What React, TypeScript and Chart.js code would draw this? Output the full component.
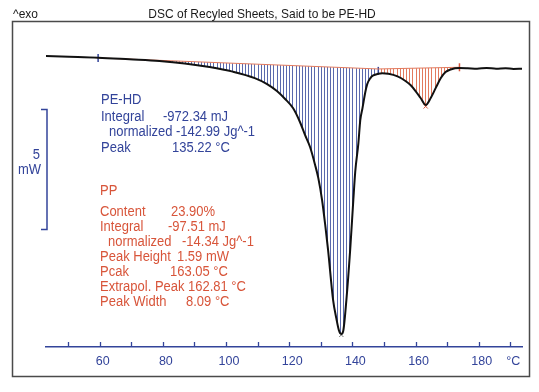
import React, { useEffect, useRef } from 'react';
import { Chart, registerables } from 'chart.js';

Chart.register(...registerables);

// ---- data ----
const temperatureC = [43, 50.3, 59.5, 69.4, 78.9, 86.9, 94.8, 102.1, 109.1, 113, 116.1, 118.7, 121.2, 123.4, 125, 126.6, 128.2, 129.2, 130.4, 131.4, 132.3, 133.9, 134.9, 135.8, 136.5, 137.1, 138.1, 139.3, 140.3, 140.9, 141.9, 142.5, 143.2, 144.1, 144.7, 145.7, 146.6, 148.2, 149.5, 151.4, 154.3, 156.8, 158.4, 160, 161.6, 163.2, 164.8, 166.4, 168, 169.5, 171.1, 173.9, 176.5, 179.5, 182.5, 185.5, 188.5, 191, 193.7];
const heatFlowMW = [0, -0.03, -0.07, -0.14, -0.21, -0.31, -0.46, -0.65, -0.92, -1.17, -1.46, -1.79, -2.17, -2.75, -3.29, -3.79, -4.54, -5.08, -6.0, -7.04, -8.08, -10.17, -10.92, -11.46, -11.58, -11.46, -10.17, -8.08, -6.0, -4.83, -3.63, -2.67, -2.17, -1.5, -1.17, -0.92, -0.81, -0.74, -0.72, -0.74, -0.85, -1.04, -1.21, -1.46, -1.75, -2.04, -1.75, -1.33, -0.92, -0.67, -0.56, -0.5, -0.51, -0.53, -0.5, -0.53, -0.51, -0.54, -0.53];

const peHdBaselineT = [59.5, 148.2];
const peHdBaselineH = [-0.08, -0.54];
const ppBaselineT = [148.2, 173.9];
const ppBaselineH = [-0.54, -0.47];

const limitT = [59.5, 148.2, 173.9];
const limitH = [-0.08, -0.62, -0.47];
const peakT = [136.5, 163.2];
const peakH = [-11.62, -2.1];

const xTicks = [50, 60, 70, 80, 90, 100, 110, 120, 130, 140, 150, 160, 170, 180, 190];
const xTickLabels = ['', '60', '', '80', '', '100', '', '120', '', '140', '', '160', '', '180', '°C'];

const scaleBarTopMW = -2.2;
const scaleBarSpanMW = 5;

const titleText = 'DSC of Recyled Sheets, Said to be PE-HD';
const exoText = '^exo';
const peHdHeader = 'PE-HD';
const peHdLabels = ['Integral', 'normalized', 'Peak'];
const peHdValues = ['-972.34 mJ', '-142.99 Jg^-1', '135.22 °C'];
const ppHeader = 'PP';
const ppLabels = ['Content', 'Integral', 'normalized', 'Peak Height', 'Pcak', 'Extrapol. Peak', 'Peak Width'];
const ppValues = ['23.90%', '-97.51 mJ', '-14.34 Jg^-1', '1.59 mW', '163.05 °C', '162.81 °C', '8.09 °C'];

// ---- styles ----
const BLUE = '#33449a';
const BLUE_HATCH = '#5a69ad';
const ORANGE = '#d8553a';
const ORANGE_HATCH = '#e27a5e';
const FONT = '"Liberation Sans", Arial, Helvetica, sans-serif';

function drawText(ctx: CanvasRenderingContext2D, text: string, x: number, y: number) {
  ctx.save();
  ctx.translate(x, y);
  ctx.scale(1, 1.12);
  ctx.fillText(text, 0, 0);
  ctx.restore();
}

const hatchPlugin = {
  id: 'hatch',
  beforeDatasetsDraw(chart: any) {
    const { ctx, chartArea, scales } = chart;
    const x = scales.x;
    const y = scales.y;
    const pts = chart.getDatasetMeta(0).data as any[];
    const regions = [
      { t: peHdBaselineT, h: peHdBaselineH, color: BLUE_HATCH },
      { t: ppBaselineT, h: ppBaselineH, color: ORANGE_HATCH },
    ];
    regions.forEach((r) => {
      ctx.save();
      ctx.beginPath();
      ctx.moveTo(x.getPixelForValue(r.t[0]), y.getPixelForValue(r.h[0]));
      let prev: any = null;
      temperatureC.forEach((t, i) => {
        if (t < r.t[0] || t > r.t[1]) return;
        const p = pts[i];
        if (prev && prev.cp2x !== undefined && p.cp1x !== undefined) {
          ctx.bezierCurveTo(prev.cp2x, prev.cp2y, p.cp1x, p.cp1y, p.x, p.y);
        } else {
          ctx.lineTo(p.x, p.y);
        }
        prev = p;
      });
      ctx.lineTo(x.getPixelForValue(r.t[1]), y.getPixelForValue(r.h[1]));
      ctx.closePath();
      ctx.clip();
      ctx.strokeStyle = r.color;
      ctx.lineWidth = 1;
      for (let t = Math.ceil(r.t[0]); t <= r.t[1]; t++) {
        const px = Math.round(x.getPixelForValue(t)) + 0.5;
        ctx.beginPath();
        ctx.moveTo(px, chartArea.top);
        ctx.lineTo(px, chartArea.bottom);
        ctx.stroke();
      }
      ctx.restore();
    });
  },
};

const decorPlugin = {
  id: 'decor',
  beforeDraw(chart: any) {
    const { ctx, width, height } = chart;
    ctx.save();
    ctx.fillStyle = '#ffffff';
    ctx.fillRect(0, 0, width, height);
    ctx.restore();
  },
  afterDraw(chart: any) {
    const { ctx, scales } = chart;
    const x = scales.x;
    const y = scales.y;
    ctx.save();
    // frame
    ctx.strokeStyle = '#4a4a4a';
    ctx.lineWidth = 1.5;
    ctx.strokeRect(12.5, 21.5, 517, 355);

    // tick marks pointing up
    ctx.strokeStyle = BLUE;
    ctx.lineWidth = 1.3;
    const yAxis = x.top;
    xTicks.forEach((v) => {
      const px = Math.round(x.getPixelForValue(v)) + 0.5;
      ctx.beginPath();
      ctx.moveTo(px, yAxis);
      ctx.lineTo(px, yAxis - 5);
      ctx.stroke();
    });

    // title
    ctx.fillStyle = '#1a1a1a';
    ctx.font = `12px ${FONT}`;
    ctx.textBaseline = 'middle';
    ctx.textAlign = 'center';
    drawText(ctx, titleText, 262, 14);
    ctx.textAlign = 'left';
    drawText(ctx, exoText, 13, 14);

    // scale bar
    const yTop = Math.round(y.getPixelForValue(scaleBarTopMW)) + 0.5;
    const yBot = Math.round(y.getPixelForValue(scaleBarTopMW - scaleBarSpanMW)) + 0.5;
    ctx.strokeStyle = BLUE;
    ctx.lineWidth = 1.5;
    ctx.beginPath();
    ctx.moveTo(41, yTop);
    ctx.lineTo(47, yTop);
    ctx.lineTo(47, yBot);
    ctx.lineTo(41, yBot);
    ctx.stroke();
    ctx.fillStyle = BLUE;
    ctx.font = `13px ${FONT}`;
    ctx.textAlign = 'right';
    drawText(ctx, String(scaleBarSpanMW), 40, 155);
    drawText(ctx, 'mW', 41, 170);

    // PE-HD block
    ctx.textAlign = 'left';
    ctx.fillStyle = BLUE;
    drawText(ctx, peHdHeader, 101, 100);
    const peLabelX = [101, 109, 101];
    const peValueX = [163, 176, 172];
    const peY = [117, 132, 148];
    peHdLabels.forEach((l, i) => {
      drawText(ctx, l, peLabelX[i], peY[i]);
      drawText(ctx, peHdValues[i], peValueX[i], peY[i]);
    });

    // PP block
    ctx.fillStyle = ORANGE;
    drawText(ctx, ppHeader, 100, 191);
    const ppLabelX = [100, 100, 108, 100, 100, 100, 100];
    const ppValueX = [171, 168, 182, 177, 170, 188, 186];
    const ppY = [212, 227, 242, 257, 272, 287, 302];
    ppLabels.forEach((l, i) => {
      drawText(ctx, l, ppLabelX[i], ppY[i]);
      drawText(ctx, ppValues[i], ppValueX[i], ppY[i]);
    });
    ctx.restore();
  },
};

export default function App() {
  const ref = useRef<HTMLCanvasElement>(null);
  useEffect(() => {
    const curve = temperatureC.map((t, i) => ({ x: t, y: heatFlowMW[i] }));
    const chart = new Chart(ref.current as HTMLCanvasElement, {
      type: 'line',
      data: {
        datasets: [
          {
            label: 'DSC',
            data: curve,
            borderColor: '#111111',
            borderWidth: 2,
            pointRadius: 0,
            cubicInterpolationMode: 'monotone',
            fill: false,
          },
          {
            label: 'PE-HD baseline',
            data: peHdBaselineT.map((t, i) => ({ x: t, y: peHdBaselineH[i] })),
            borderColor: ORANGE_HATCH,
            borderWidth: 1,
            pointRadius: 0,
            fill: false,
          },
          {
            label: 'PP baseline',
            data: ppBaselineT.map((t, i) => ({ x: t, y: ppBaselineH[i] })),
            borderColor: ORANGE_HATCH,
            borderWidth: 1,
            pointRadius: 0,
            fill: false,
          },
          {
            label: 'limits',
            data: limitT.map((t, i) => ({ x: t, y: limitH[i] })),
            showLine: false,
            pointStyle: 'line',
            rotation: 90,
            pointRadius: 4,
            pointBorderWidth: 1.5,
            pointBorderColor: [BLUE, BLUE, ORANGE],
            borderColor: ORANGE,
          },
          {
            label: 'peaks',
            data: peakT.map((t, i) => ({ x: t, y: peakH[i] })),
            showLine: false,
            pointStyle: 'crossRot',
            pointRadius: 3,
            pointBorderWidth: 1,
            pointBorderColor: ['#777777', ORANGE],
            borderColor: '#777777',
          },
        ] as any,
      },
      options: {
        responsive: false,
        devicePixelRatio: 1,
        animation: false,
        events: [],
        layout: { padding: { left: 46, right: 17, top: 20, bottom: 16 } },
        plugins: {
          legend: { display: false },
          tooltip: { enabled: false },
          title: { display: false },
        },
        scales: {
          x: {
            type: 'linear',
            position: 'bottom',
            min: 43,
            max: 193.7,
            afterBuildTicks: (scale: any) => {
              scale.ticks = xTicks.map((v) => ({ value: v }));
            },
            ticks: {
              autoSkip: false,
              maxRotation: 0,
              padding: 7,
              labelOffset: 3,
              color: BLUE,
              font: { family: FONT, size: 12.5 },
              callback: (_v: any, i: number) => xTickLabels[i],
            },
            grid: { display: false, drawTicks: false },
            border: { display: true, color: BLUE, width: 1.5 },
          },
          y: {
            type: 'linear',
            display: false,
            min: -12.125,
            max: 1.5,
          },
        },
      } as any,
      plugins: [hatchPlugin, decorPlugin],
    });
    return () => chart.destroy();
  }, []);
  return (
    <div style={{ position: 'absolute', left: 0, top: 0, width: 539, height: 392, background: '#fff' }}>
      <canvas ref={ref} width={539} height={392} style={{ display: 'block', width: 539, height: 392 }} />
    </div>
  );
}
